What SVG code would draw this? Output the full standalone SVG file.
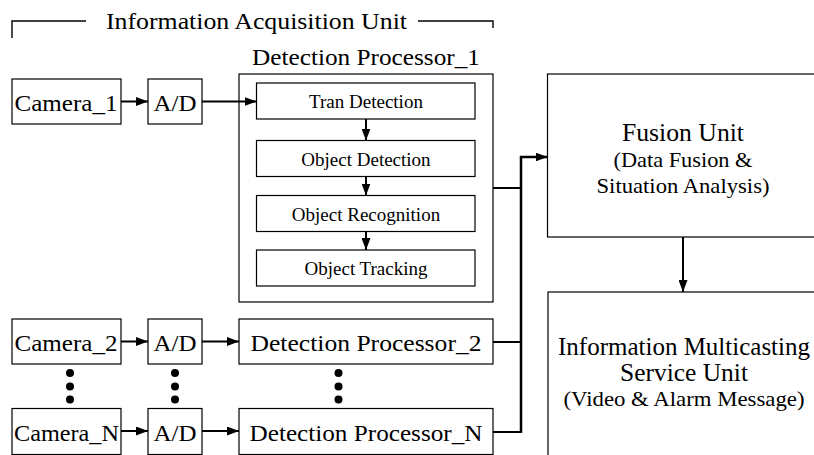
<svg xmlns="http://www.w3.org/2000/svg" width="814" height="455" viewBox="0 0 814 455">
<style>
  .box { fill: #ffffff; stroke: #000000; stroke-width: 1.2; }
  .t { font-family: "Liberation Serif", "Times New Roman", serif; fill: #000000; text-anchor: middle; }
  .big { font-size: 24px; }
  .mid { font-size: 22px; }
  .sm { font-size: 19px; }
  .conn { fill: none; stroke: #000000; stroke-width: 2; }
  .bus { fill: none; stroke: #000000; stroke-width: 2.5; }
  .thin { fill: none; stroke: #000000; stroke-width: 1.4; }
  .dot { fill: #000000; }
</style>
<defs>
  <marker id="ah" viewBox="0 0 12 9" refX="12" refY="4.5" markerWidth="12" markerHeight="9" markerUnits="userSpaceOnUse" orient="auto">
    <path d="M0,0 L12,4.5 L0,9 z" fill="#000000"/>
  </marker>
</defs>
<rect width="814" height="455" fill="#ffffff"/>

<g id="acquisition-unit-label">
  <path class="thin" d="M12,38 V21 H86"/>
  <path class="thin" d="M418,21 H493 V28"/>
  <text class="t big" x="256.5" y="28.5" textLength="301" lengthAdjust="spacingAndGlyphs">Information Acquisition Unit</text>
</g>

<g id="camera1">
  <rect class="box" x="12" y="79" width="109" height="45"/>
  <text class="t big" x="66" y="110.5" textLength="103" lengthAdjust="spacingAndGlyphs">Camera_1</text>
</g>
<g id="ad1">
  <rect class="box" x="148" y="79" width="54" height="45"/>
  <text class="t big" x="175" y="110.5" textLength="43" lengthAdjust="spacingAndGlyphs">A/D</text>
</g>

<g id="detection-processor-1">
  <rect class="box" x="239" y="74" width="254" height="228"/>
  <text class="t big" x="366" y="65" textLength="228" lengthAdjust="spacingAndGlyphs">Detection Processor_1</text>
</g>
<g id="tran-detection">
  <rect class="box" x="256.5" y="83" width="218.5" height="36"/>
  <text class="t sm" x="366" y="108">Tran Detection</text>
</g>
<g id="object-detection">
  <rect class="box" x="256.5" y="140.5" width="218.5" height="36"/>
  <text class="t sm" x="366" y="165.5">Object Detection</text>
</g>
<g id="object-recognition">
  <rect class="box" x="256.5" y="195.5" width="218.5" height="36"/>
  <text class="t sm" x="366" y="220.5">Object Recognition</text>
</g>
<g id="object-tracking">
  <rect class="box" x="256.5" y="250" width="218.5" height="36"/>
  <text class="t sm" x="366" y="275">Object Tracking</text>
</g>

<g id="camera2">
  <rect class="box" x="12" y="319" width="109" height="45"/>
  <text class="t big" x="66" y="351" textLength="103" lengthAdjust="spacingAndGlyphs">Camera_2</text>
</g>
<g id="ad2">
  <rect class="box" x="148" y="319" width="54" height="45"/>
  <text class="t big" x="175" y="351" textLength="43" lengthAdjust="spacingAndGlyphs">A/D</text>
</g>
<g id="detection-processor-2">
  <rect class="box" x="239" y="319" width="254" height="45"/>
  <text class="t big" x="366" y="351" textLength="231" lengthAdjust="spacingAndGlyphs">Detection Processor_2</text>
</g>

<g id="cameraN">
  <rect class="box" x="12" y="408.5" width="109" height="46"/>
  <text class="t big" x="66.5" y="441" textLength="105" lengthAdjust="spacingAndGlyphs">Camera_N</text>
</g>
<g id="adN">
  <rect class="box" x="148" y="408.5" width="54" height="46"/>
  <text class="t big" x="175" y="441" textLength="43" lengthAdjust="spacingAndGlyphs">A/D</text>
</g>
<g id="detection-processor-N">
  <rect class="box" x="239" y="408.5" width="254" height="46"/>
  <text class="t big" x="366" y="441" textLength="233" lengthAdjust="spacingAndGlyphs">Detection Processor_N</text>
</g>

<g id="ellipsis">
  <circle class="dot" cx="70" cy="373" r="4"/>
  <circle class="dot" cx="70" cy="386.5" r="4"/>
  <circle class="dot" cx="70" cy="399.5" r="4"/>
  <circle class="dot" cx="175" cy="373" r="4"/>
  <circle class="dot" cx="175" cy="386.5" r="4"/>
  <circle class="dot" cx="175" cy="399.5" r="4"/>
  <circle class="dot" cx="338.5" cy="373" r="4"/>
  <circle class="dot" cx="338.5" cy="386.5" r="4"/>
  <circle class="dot" cx="338.5" cy="399.5" r="4"/>
</g>

<g id="fusion-unit">
  <rect class="box" x="547.5" y="74" width="268" height="163"/>
  <text class="t" x="683" y="141" font-size="25" textLength="122" lengthAdjust="spacingAndGlyphs">Fusion Unit</text>
  <text class="t mid" x="683" y="167" textLength="139" lengthAdjust="spacingAndGlyphs">(Data Fusion &amp;</text>
  <text class="t mid" x="683" y="193" textLength="173" lengthAdjust="spacingAndGlyphs">Situation Analysis)</text>
</g>

<g id="multicasting-unit">
  <rect class="box" x="548" y="292" width="268" height="165"/>
  <text class="t" x="684" y="355" font-size="25" textLength="252" lengthAdjust="spacingAndGlyphs">Information Multicasting</text>
  <text class="t" x="684" y="381" font-size="25" textLength="128" lengthAdjust="spacingAndGlyphs">Service Unit</text>
  <text class="t mid" x="684" y="406" textLength="241" lengthAdjust="spacingAndGlyphs">(Video &amp; Alarm Message)</text>
</g>

<g id="connectors">
  <line class="conn" x1="121" y1="101.5" x2="148" y2="101.5" marker-end="url(#ah)"/>
  <line class="conn" x1="202" y1="101.5" x2="256.5" y2="101.5" marker-end="url(#ah)"/>
  <line class="conn" x1="366" y1="119" x2="366" y2="140.5" marker-end="url(#ah)"/>
  <line class="conn" x1="366" y1="176.5" x2="366" y2="195.5" marker-end="url(#ah)"/>
  <line class="conn" x1="366" y1="231.5" x2="366" y2="250" marker-end="url(#ah)"/>
  <line class="conn" x1="121" y1="341.5" x2="148" y2="341.5" marker-end="url(#ah)"/>
  <line class="conn" x1="202" y1="341.5" x2="239" y2="341.5" marker-end="url(#ah)"/>
  <line class="conn" x1="121" y1="431" x2="148" y2="431" marker-end="url(#ah)"/>
  <line class="conn" x1="202" y1="431" x2="239" y2="431" marker-end="url(#ah)"/>
  <line class="conn" x1="493" y1="188" x2="521" y2="188"/>
  <line class="conn" x1="493" y1="342" x2="521" y2="342"/>
  <line class="conn" x1="493" y1="432" x2="521" y2="432"/>
  <path class="bus" d="M521,433 V157 H547.5" marker-end="url(#ah)"/>
  <line class="conn" x1="683" y1="237" x2="683" y2="292" marker-end="url(#ah)"/>
</g>
</svg>
